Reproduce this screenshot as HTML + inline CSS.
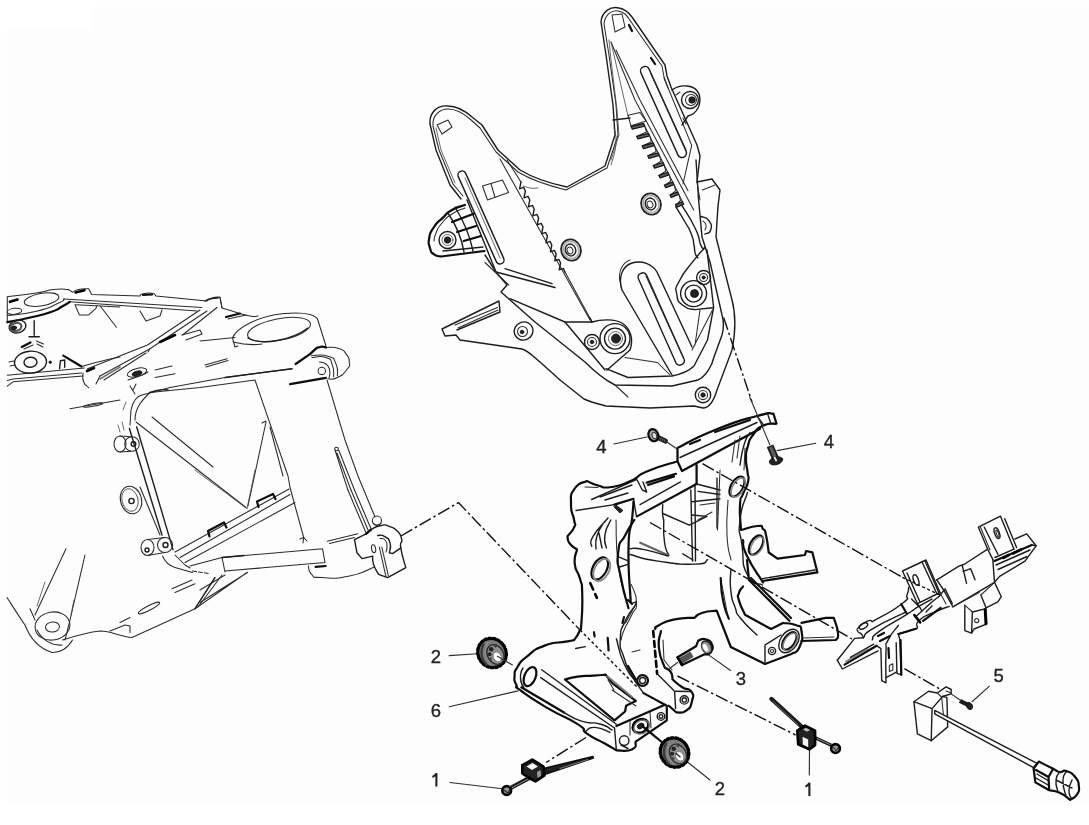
<!DOCTYPE html>
<html><head><meta charset="utf-8"><title>diagram</title>
<style>
html,body{margin:0;padding:0;background:#fff;}
body{width:1089px;height:825px;overflow:hidden;position:relative;font-family:"Liberation Sans",sans-serif;}
.bg1{position:absolute;left:7px;top:30px;width:1082px;height:774px;background:#fdfdfd;}
.bg2{position:absolute;left:93px;top:7px;width:996px;height:24px;background:#fdfdfd;}
svg{position:absolute;left:0;top:0;}
svg path, svg circle, svg ellipse{fill:none;stroke-linecap:round;stroke-linejoin:round;}
.t{stroke:#2b2b2b;stroke-width:1.05;}
.tt{stroke:#444;stroke-width:0.8;}
.m{stroke:#1c1c1c;stroke-width:1.4;}
.k{stroke:#0a0a0a;stroke-width:2.2;}
.kk{stroke:#000;stroke-width:2.6;}
.d{stroke:#111;stroke-width:1.4;stroke-dasharray:13 3 2.5 3;stroke-linecap:butt !important;}
.dd{stroke:#111;stroke-width:1.4;stroke-dasharray:3 2.5;stroke-linecap:butt !important;}
.l{stroke:#2e2e2e;stroke-width:1.15;}
.f{fill:#222 !important;stroke:#111;stroke-width:0.8;}
.w{fill:#fdfdfd !important;}
text{font-family:"Liberation Sans",sans-serif;fill:#222;}
</style></head><body>
<div class="bg1"></div><div class="bg2"></div>
<svg width="1089" height="825" viewBox="0 0 1089 825">
<g filter="url(#b)">
<filter id="b" x="0" y="0" width="1089" height="825" filterUnits="userSpaceOnUse"><feGaussianBlur stdDeviation="0.55"/></filter>
<path class="m" d="M 461,199 L 450,185 L 436,150 L 430,124 C 429,112 438,105 448,106 C 456,106 464,110 472,117 L 482,125 L 498,150 L 520,170 C 530,176 548,183 567,187 L 605,166 L 615,135 L 613,105 L 606,55 L 601,22 C 602,11 611,6 619,8 C 625,9 629,13 632,17 L 665,65 L 667,76 L 671,87 L 697,145 L 700,156 L 697,182 L 712,179 L 720,190 L 718,206 L 716,237 L 732,300 C 736,315 736,330 732,350 L 717,390 C 714,400 710,408 703,408 L 694,406 L 650,408 L 606,406 C 598,404 590,402 584,399 L 560,380 L 540,362 C 532,355 527,350 522,349 L 460,340 L 456,335 L 445,336 L 442,329 L 499,301 L 500,312 L 457,330" />
<path class="t" d="M 463,196 L 453,184 L 439,150 L 433,126 C 432,115 440,109 448,109 C 455,109 462,112 470,119 L 480,128 L 496,152 L 518,172 C 528,178 546,185 566,190 L 607,168 L 618,135 L 616,105 L 609,55 L 604,24 C 605,14 612,10 618,11 C 623,12 627,15 629,19 L 662,66 L 664,77 L 668,88" />
<path class="tt" d="M 436,128 L 441,150 L 455,183" />
<path class="tt" d="M 609,40 L 611,60 L 617,110 L 619,135 L 611,160" />
<path class="tt" d="M 611,165 C 616,150 618,140 614,128" />
<path class="t" d="M 437,125 L 448,120 L 452,127 L 442,134 Z" />
<path class="t" d="M 612,15 L 622,14 L 625,27 L 615,32 Z" />
<path class="k" d="M 629,25 L 632,31" />
<path class="k" d="M 651,58 L 655,64" />
<path class="m" d="M 458.3,176.6 L 496.3,261.6 A 4.0,4.0 0 0 0 503.7,258.4 L 465.7,173.4 A 4.0,4.0 0 0 0 458.3,176.6 Z" />
<path class="tt" d="M 465,178 L 500,258" />
<path class="m" d="M 640.9,72.9 L 677.9,154.9 A 4.5,4.5 0 0 0 686.1,151.1 L 649.1,69.1 A 4.5,4.5 0 0 0 640.9,72.9 Z" />
<path class="t" d="M 651,74 L 686,150" />
<path class="t" d="M 482.5,186 L 502.5,180 L 508.6,192.5 L 487.5,200 Z M 491,183.7 L 495,197.5" />
<path class="t" d="M 500,159 L 590,320" />
<path class="t" d="M 507,160 L 521,182" />
<path class="m" d="M 521.0,182.0 L 519.6,188.8 L 523.6,187.4 L 525.4,191.0 L 524.0,197.8 L 528.0,196.4 L 529.8,200.0 L 528.4,206.8 L 532.4,205.4 L 534.2,209.0 L 532.8,215.8 L 536.8,214.4 L 538.6,218.0 L 537.2,224.8 L 541.2,223.4 L 543.0,227.0 L 541.6,233.8 L 545.6,232.4 L 547.4,236.0 L 546.0,242.8 L 550.0,241.4 L 551.8,245.0 L 550.4,251.8 L 554.4,250.4 L 556.2,254.0 L 554.8,260.8 L 558.8,259.4 L 560.6,263.0 L 559.2,269.8 L 563.2,268.4 L 565.0,272.0" />
<path class="t" d="M 565,272 L 592,322" />
<path class="tt" d="M 523,186 C 528,188 533,189 538,188" />
<path class="t" d="M 611,42 L 635,100 L 693.7,210" />
<path class="t" d="M 616,50 L 640,100 L 688,190.7" />
<path class="tt" d="M 611,42 L 628,116" />
<path class="m" d="M 613,120 L 630,118" />
<path class="" d="M 631.0,126.5 L 643.5,123.5 L 644.7,126.1 L 632.4,129.1 Z" style="stroke:#151515;stroke-width:1.3;fill:#666"/>
<path class="t" d="M 645.1,127.1 L 646.5,132.0 L 638.1,135.8" />
<path class="" d="M 636.6,136.3 L 648.4,133.3 L 649.6,135.9 L 638.0,138.9 Z" style="stroke:#151515;stroke-width:1.3;fill:#666"/>
<path class="t" d="M 650.0,136.9 L 651.4,141.8 L 643.6,145.5" />
<path class="" d="M 642.1,146.0 L 653.2,143.0 L 654.4,145.6 L 643.5,148.6 Z" style="stroke:#151515;stroke-width:1.3;fill:#666"/>
<path class="t" d="M 654.8,146.6 L 656.2,151.5 L 649.2,155.3" />
<path class="" d="M 647.7,155.8 L 658.1,152.8 L 659.3,155.4 L 649.1,158.4 Z" style="stroke:#151515;stroke-width:1.3;fill:#666"/>
<path class="t" d="M 659.7,156.4 L 661.1,161.3 L 654.7,165.0" />
<path class="" d="M 653.2,165.5 L 662.9,162.5 L 664.1,165.1 L 654.6,168.1 Z" style="stroke:#151515;stroke-width:1.3;fill:#666"/>
<path class="t" d="M 664.5,166.1 L 665.9,171.0 L 660.3,174.8" />
<path class="" d="M 658.8,175.3 L 667.8,172.3 L 669.0,174.9 L 660.2,177.9 Z" style="stroke:#151515;stroke-width:1.3;fill:#666"/>
<path class="t" d="M 669.4,175.9 L 670.8,180.8 L 665.9,184.6" />
<path class="" d="M 664.4,185.1 L 672.7,182.1 L 673.9,184.7 L 665.8,187.7 Z" style="stroke:#151515;stroke-width:1.3;fill:#666"/>
<path class="t" d="M 674.3,185.7 L 675.7,190.6 L 671.4,194.3" />
<path class="" d="M 669.9,194.8 L 677.5,191.8 L 678.7,194.4 L 671.3,197.4 Z" style="stroke:#151515;stroke-width:1.3;fill:#666"/>
<path class="t" d="M 679.1,195.4 L 680.5,200.3 L 677.0,204.1" />
<path class="" d="M 675.5,204.6 L 682.4,201.6 L 683.6,204.2 L 676.9,207.2 Z" style="stroke:#151515;stroke-width:1.3;fill:#666"/>
<path class="t" d="M 628,115.3 L 640,112.5 L 646,121 L 631,125.8 Z" />
<path class="t" d="M 643.5,123.7 L 682.5,201.8" />
<path class="t" d="M 664,78 L 691.7,145.4 L 683,184" />
<path class="m" d="M 675.8,206.9 C 678.9,211.9 679.8,213.0 685.0,222.0 C 690.2,231.0 688.3,226.3 691.3,234.0 C 694.3,241.7 692.7,238.5 694.0,245.0 C 695.3,251.5 693.9,249.1 695.2,253.4 C 696.5,257.7 697.1,256.5 698.0,258.0 M 681.6,204.9 C 686.1,212.7 688.7,214.6 695.2,228.2 C 701.7,241.8 697.8,239.1 701.0,245.6 C 704.2,252.1 703.6,246.9 704.9,247.6" />
<ellipse class="" cx="651" cy="204" rx="9.8" ry="10.8" transform="rotate(-20 651 204)" style="stroke:#222;stroke-width:1.8"/>
<ellipse class="" cx="651" cy="204" rx="7.8" ry="8.8" transform="rotate(-20 651 204)" style="stroke:#aaa;stroke-width:1.8"/>
<ellipse class="m" cx="650.5" cy="204" rx="5.2" ry="6" transform="rotate(-20 650.5 204)" />
<ellipse class="t" cx="650" cy="204.5" rx="2.8" ry="3.4" transform="rotate(-20 650 204.5)" />
<ellipse class="" cx="571" cy="250" rx="9.8" ry="10.8" transform="rotate(-20 571 250)" style="stroke:#222;stroke-width:1.8"/>
<ellipse class="" cx="571" cy="250" rx="7.8" ry="8.8" transform="rotate(-20 571 250)" style="stroke:#aaa;stroke-width:1.8"/>
<ellipse class="m" cx="570.5" cy="250" rx="5.2" ry="6" transform="rotate(-20 570.5 250)" />
<ellipse class="t" cx="570" cy="250.5" rx="2.8" ry="3.4" transform="rotate(-20 570 250.5)" />
<path class="k" d="M 465.0,205.0 C 460.7,206.7 459.3,205.8 452.0,210.0 C 444.7,214.2 449.0,211.9 443.0,217.6 C 437.0,223.3 438.6,220.2 434.0,227.0 C 429.4,233.8 430.5,231.0 429.2,238.0 C 427.9,245.0 428.4,242.5 430.0,248.0 C 431.6,253.5 430.3,251.6 434.0,254.4 C 437.7,257.2 438.7,255.8 441.0,256.5 L 484.5,251.0" />
<path class="t" d="M 465.0,208.0 C 460.7,210.0 459.7,209.0 452.0,214.0 C 444.3,219.0 447.3,216.7 442.0,223.0 C 436.7,229.3 438.7,227.0 436.0,233.0 C 433.3,239.0 434.7,238.3 434.0,241.0" />
<circle class="m" cx="447.5" cy="240" r="8.5" />
<circle class="f" cx="447.5" cy="240" r="3.2" />
<circle class="tt" cx="447.5" cy="240" r="5.5" />
<path class="m" d="M 448,213 C 456,225 462,240 464,252 M 455,207 C 463,220 470,236 473,251" />
<path class="k" d="M 452,222 L 473.7,213.7 M 457,232 L 476,226 M 463.7,241 L 481,236" />
<path class="m" d="M 443,251 L 483,247" />
<path class="m" d="M 467,200 L 496,272 L 507,285 L 501,292 L 535,322 L 585,362 C 595,372 605,380 615,385 L 672,386 L 698,380 C 706,376 712,366 714,357 L 722,335 C 724,328 724,322 722,315 L 710,262 L 702,237 L 698.6,200 L 696,160" />
<path class="m" d="M 485,255 L 496,272 L 555,287.5 M 505,268.7 L 552,283.7" />
<path class="t" d="M 485,262.5 L 508.7,285" />
<path class="m" d="M 510,298.7 L 565,322 L 605,370" />
<path class="m" d="M 565,322 L 592,322 L 590,318" />
<circle class="m" cx="615" cy="338.6" r="15" />
<circle class="m" cx="615" cy="338.6" r="10.5" />
<circle class="f" cx="616" cy="338.6" r="4.5" />
<circle class="tt" cx="615.5" cy="338.6" r="7" />
<path class="m" d="M 592,322 C 602,319 615,319 622,323 C 630,328 634,338 630,350 L 607,370" />
<circle class="m" cx="592" cy="342" r="7.5" />
<circle class="t" cx="592" cy="342" r="4.5" />
<circle class="f" cx="592" cy="342" r="1.8" />
<path class="t" d="M 625,357.5 L 657.5,362.5 L 670,375" />
<path class="m" d="M 606,368.6 L 628,377.5 L 672,376 C 682,374 690,370 694,366 L 707.5,340 L 713.6,307.5 L 707,250" />
<path class="t" d="M 615,385 L 628,397" />
<path class="m" d="M 672,375 L 622,290 C 618,278 622,266 632,263 C 642,260 652,264 657,272 L 692,347" />
<path class="t" d="M 620,282 C 618,272 622,263 630,260" />
<path class="m" d="M 638.4,278.8 L 675.9,362.8 A 4.5,4.5 0 0 0 684.1,359.2 L 646.6,275.2 A 4.5,4.5 0 0 0 638.4,278.8 Z" />
<path class="t" d="M 646,276 L 683,357" />
<circle class="m" cx="693.6" cy="293.6" r="13" />
<circle class="m" cx="693.6" cy="293.6" r="8.5" />
<circle class="f" cx="694.5" cy="293.6" r="4" />
<path class="m" d="M 704.9,247.6 C 701.0,252.1 701.6,250.2 693.2,261.2 C 684.8,272.2 685.1,269.6 679.6,280.5 C 674.1,291.4 675.4,285.6 676.7,294.0 C 678.0,302.4 677.3,300.6 683.5,305.8 C 689.7,311.0 691.3,308.3 695.2,309.6 L 712.6,307.7" />
<circle class="m" cx="703.6" cy="277.5" r="7" />
<circle class="t" cx="703.6" cy="277.5" r="4" />
<circle class="f" cx="703.6" cy="277.5" r="1.6" />
<path class="t" d="M 700,310 L 695,345 M 712.5,310 L 692,350" />
<path class="m" d="M 701.0,216.5 C 703.6,217.8 705.5,215.9 708.7,220.4 C 711.9,224.9 712.0,225.5 710.7,230.0 C 709.4,234.5 706.8,232.7 704.9,234.0" />
<path class="t" d="M 703.0,221.0 C 704.0,222.3 705.3,222.0 706.0,225.0 C 706.7,228.0 705.3,228.3 705.0,230.0" />
<circle class="m" cx="703" cy="395" r="7.7" />
<circle class="t" cx="703" cy="395" r="4.6" />
<circle class="f" cx="703" cy="395" r="2.2" />
<path class="m" d="M 672,90 C 680,84 695,84 699,94 C 702,104 697,114 688,116 L 682,125" />
<circle class="m" cx="690" cy="100" r="8.5" />
<circle class="t" cx="691" cy="100" r="5.5" />
<circle class="f" cx="692" cy="100" r="3.2" />
<path class="t" d="M 676,95 L 680,92 M 683,118 L 686,124" />
<path class="t" d="M 702.5,190 L 715,185" />
<path class="t" d="M 697,182 L 700,200" />
<path class="t" d="M 455,325 L 497.5,307.5 M 458,328 L 498,310" />
<ellipse class="m" cx="523.6" cy="331" rx="9.5" ry="9" transform="rotate(-20 523.6 331)" />
<ellipse class="t" cx="522.5" cy="331.5" rx="5" ry="5" transform="rotate(0 522.5 331.5)" />
<circle class="f" cx="522" cy="332" r="1.8" />
<path class="t" d="M 7.3,296.7 C 17.0,295.5 20.9,295.4 36.4,293.0 C 51.9,290.6 43.1,290.7 53.8,289.5 C 64.5,288.3 63.5,289.5 68.4,289.5 L 72.7,292.4 C 74.6,291.4 73.2,290.7 78.5,289.5 C 83.8,288.3 85.3,289.0 88.7,288.7 L 91.6,294.5 L 140.0,296.0 C 141.0,295.3 139.0,294.7 143.0,293.8 C 147.0,292.9 147.7,292.5 152.0,293.2 C 156.3,293.9 154.7,295.1 156.0,296.0 L 207.0,301.0 C 208.7,300.0 207.7,299.3 212.0,298.0 C 216.3,296.7 217.3,297.3 220.0,297.0 L 222.0,308.0 C 226.3,309.3 225.7,309.3 235.0,312.0 C 244.3,314.7 242.3,314.7 250.0,316.0 C 257.7,317.3 255.3,316.0 258.0,316.0" />
<path class="kk" d="M 75.6,292.4 L 84.4,290.2" />
<path class="kk" d="M 10,301.8 L 17.5,299.6" />
<path class="k" d="M 143,295 L 152,294.5" />
<path class="t" d="M 64,298.9 L 202,307.5 M 69.8,301.8 L 197,311 M 75.6,304.7 L 120,306.9" />
<path class="t" d="M 200,310 L 147.5,345 L 87.5,368.7 M 207,311 L 150,348.7 L 100,376 M 217,307.5 L 182.5,335 M 220,297.5 L 222,308" />
<path class="kk" d="M 160,342 L 175,335" />
<path class="t" d="M 182,335 L 200,330 L 202,334 L 186,340" />
<path class="t" d="M 150,348.7 L 148,352 M 100,376 L 96,384" />
<path class="t" d="M 104,380 L 146,353" />
<path class="" d="M 100,379 L 120,367" style="stroke:#777;stroke-width:1.8"/>
<path class="t" d="M 81.5,366.5 C 87.7,364.8 87.2,364.7 100.0,361.5 C 112.8,358.3 113.3,358.5 120.0,357.0" />
<path class="kk" d="M 87,371 L 94,368" />
<path class="t" d="M 83.0,373.0 C 83.2,375.9 81.7,376.9 83.6,381.8 C 85.5,386.7 87.0,385.7 88.7,387.6" />
<path class="t" d="M 7.3,375.3 L 84.4,368 M 13,379 L 81.5,373 M 13,381.8 L 83,376 M 7.3,380.4 L 13,379 M 7.3,386.2 L 13,381.8" />
<path class="t" d="M 7.3,296.7 L 7.3,322" />
<ellipse class="t" cx="41.5" cy="299.6" rx="17.5" ry="6.2" transform="rotate(-10 41.5 299.6)" />
<ellipse class="t" cx="14.5" cy="311.3" rx="7.3" ry="3" transform="rotate(-8 14.5 311.3)" />
<path class="k" d="M 7.3,322.2 C 14.5,320.7 14.4,321.2 29.0,317.8 C 43.6,314.4 39.8,315.9 51.0,312.0 C 62.2,308.1 56.2,309.6 62.5,306.2 C 68.8,302.8 67.4,303.3 69.8,301.8" />
<path class="t" d="M 7.3,315.6 C 17.0,314.2 19.4,315.4 36.4,311.3 C 53.4,307.2 49.0,307.4 58.2,303.3 C 67.4,299.2 62.1,300.4 64.0,298.9" />
<ellipse class="m" cx="17.5" cy="326.5" rx="8.5" ry="6.3" transform="rotate(-15 17.5 326.5)" />
<ellipse class="" cx="16" cy="327" rx="5.5" ry="4" transform="rotate(-15 16 327)" style="stroke:#555;stroke-width:2.2"/>
<ellipse class="f" cx="14" cy="328" rx="2.6" ry="2" transform="rotate(-15 14 328)" />
<path class="m" d="M 34.2,320.7 L 34.2,335.3 M 29,336.7 L 39.3,336.7" />
<path class="k" d="M 21.8,346.9 L 30.5,342.5" />
<path class="t" d="M 24,349 L 33,345 M 36.4,341 L 43.6,344 M 37,344 L 43,347" />
<ellipse class="m" cx="30.5" cy="362.2" rx="16" ry="11" transform="rotate(-4 30.5 362.2)" />
<ellipse class="m" cx="30.5" cy="362.2" rx="6.5" ry="5" transform="rotate(-4 30.5 362.2)" />
<path class="t" d="M 10,366 L 15,365 M 9,362 L 14,361" />
<circle class="f" cx="50.2" cy="362.2" r="1.2" />
<path class="m" d="M 59.6,368.7 L 60.4,360.7 L 64.7,360 L 64.7,367.3" />
<path class="k" d="M 63.3,355.6 L 81.5,366.5" />
<path class="t" d="M 75,304.7 L 79.3,314.9 L 88.7,314.9 L 96,308.4 L 96.7,305.5 M 100.4,306.2 L 116.4,327.3 M 140,311 L 146,321 L 160,316 L 162,310" />
<path class="k" d="M 226,317 L 240,313.5" />
<path class="t" d="M 228,319 L 246,315" />
<path class="t" d="M 200,341 L 235,337.5" />
<path class="m" d="M 205,301 C 208,299 213,298 218,298" />
<path class="t" d="M 232.5,338 C 236,328 258,316 284,313.5 C 302,312 314,314 317.5,319" />
<ellipse class="t" cx="279" cy="329.5" rx="32" ry="10.8" transform="rotate(-11 279 329.5)" />
<path class="m" d="M 248,338 C 262,346 292,340 308,328" />
<path class="t" d="M 232.5,338 L 235,347 L 238,346 M 233,342 C 245,345 255,345 262,344" />
<path class="t" d="M 317.5,319 L 326,346 M 327,380 L 345,440 L 358,476 L 375,517" />
<path class="t" d="M 325.9,347.4 C 330.2,347.7 332.1,346.2 338.8,348.4 C 345.5,350.6 342.6,349.3 346.1,353.9 C 349.6,358.5 349.0,356.9 349.3,362.1 C 349.6,367.3 351.1,364.3 347.0,369.5 C 342.9,374.7 343.3,374.7 336.9,377.8 C 330.5,380.9 330.8,378.4 327.8,378.7" />
<path class="t" d="M 311.2,355.7 C 316.7,355.9 319.5,353.4 327.8,356.2 C 336.1,359.0 332.8,357.4 336.0,364.0 C 339.2,370.6 336.9,371.9 337.4,375.9" />
<path class="t" d="M 312.0,357.5 C 316.6,357.5 319.1,355.0 325.9,357.5 C 332.7,360.0 329.7,358.5 332.3,364.9 C 334.9,371.3 333.2,372.8 333.7,376.8" />
<path class="t" d="M 319.5,362.1 C 321.6,362.7 322.5,361.2 325.9,364.0 C 329.3,366.8 328.5,365.8 329.6,370.4 C 330.7,375.0 329.3,375.3 329.1,377.8" />
<path class="k" d="M 295.6,364 L 310.3,353.9 L 316.7,347.9 L 322.2,346.5 L 325.9,347.4" />
<path class="k" d="M 290.1,384.2 L 325.9,377.8" />
<circle class="t" cx="321.8" cy="370.9" r="3.7" />
<path class="t" d="M 130,425 L 131,410 C 133,400 138,396 142,395 L 170,387.5 L 225,377.5 L 292,368.7" />
<path class="m" d="M 225,377.5 L 292,368.7" />
<path class="t" d="M 135,420 C 135,408 142,400 150,392.5 L 200,387.5 L 255,380 L 288,476 L 290,487.5 L 303.7,537.5" />
<path class="m" d="M 150,392.5 C 156,390 162,389 168,390" />
<path class="t" d="M 300,539 L 303.7,537.5 L 307,541 M 303.7,537.5 L 303,543" />
<path class="m" d="M 129.4,428.5 L 162,535 M 136.7,427 L 173,549.6" />
<path class="t" d="M 140,487 L 160,535" />
<path class="t" d="M 152,417 L 213,467 M 136,422 L 246,507.5 M 266,422 L 248,506 M 270,427 L 283,476 M 262,423 L 266,421" />
<path class="tt" d="M 195,470 L 247,508.7 M 255,470 L 247,508.7" />
<circle class="t" cx="132" cy="444" r="7.3" />
<circle class="m" cx="133.5" cy="444" r="2.3" />
<ellipse class="t" cx="120" cy="444" rx="6" ry="8" transform="rotate(0 120 444)" />
<path class="t" d="M 120,436 L 131,436.8 M 120,452 L 131,451.2" />
<path class="tt" d="M 118,425 L 120,432 M 122,422 L 124,430 M 126,402 L 123,410" />
<ellipse class="t" cx="131" cy="500" rx="10.5" ry="14" transform="rotate(-15 131 500)" />
<circle class="m" cx="131.5" cy="501" r="2.6" />
<ellipse class="tt" cx="130" cy="500" rx="8" ry="11.5" transform="rotate(-15 130 500)" />
<circle class="t" cx="165" cy="545" r="7.5" />
<circle class="m" cx="165.5" cy="545" r="2.5" />
<ellipse class="t" cx="147.5" cy="547.5" rx="6.5" ry="8" transform="rotate(0 147.5 547.5)" />
<circle class="m" cx="147" cy="550" r="2" />
<path class="t" d="M 147.5,539.5 L 165,537.5 M 147.5,555.5 L 165,552.5" />
<path class="t" d="M 175,552 L 289,489 M 180,557.5 L 290,494.5 M 185,562.5 L 295,502.5" />
<path class="k" d="M 209.5,536.5 L 208,531 L 224,522.5 L 226.5,527.5" />
<path class="k" d="M 258.5,507 L 257,501.5 L 273,494 L 275.5,499" />
<path class="t" d="M 190,566 L 222,557.5 L 322.5,548.7 M 225,571 L 325,562.5 M 222,557.5 L 225,572 M 322.5,548.7 L 325,562.5" />
<path class="m" d="M 222,557.5 L 244,555.5" />
<path class="t" d="M 200,590 L 225,575 M 200,602.5 L 247.5,572.5 M 195,608.7 L 247,572.5" />
<path class="t" d="M 62.5,640 C 75,636 90,632 100,631 C 112,631 120,637 132,637.5 L 195,608.7" />
<path class="m" d="M 195,608.7 L 215,577.5" />
<path class="t" d="M 198,607 L 222,575" />
<path class="t" d="M 110,631 L 125,625 L 130,626 L 130,632.5" />
<path class="t" d="M 172,588.7 L 192,580 M 175,592.5 L 195,583.7" />
<ellipse class="t" cx="149" cy="608" rx="12" ry="2.3" transform="rotate(-27 149 608)" />
<path class="t" d="M 120,622.5 L 130,617.5" />
<ellipse class="t" cx="52.5" cy="626" rx="17.5" ry="14" transform="rotate(-10 52.5 626)" />
<ellipse class="t" cx="52.5" cy="627" rx="7" ry="5" transform="rotate(-5 52.5 627)" />
<path class="t" d="M 66,548.7 L 35,615 M 85,555 L 70,620 L 65,640" />
<path class="t" d="M 7,597.5 C 15,610 20,618 25,625 C 30,638 38,648 52,652.5 C 60,653 68,648 72.5,640" />
<path class="t" d="M 30,608.7 L 35,620 M 37,630 C 42,640 52,646 62,645" />
<path class="tt" d="M 45,582 L 37,606 M 74,600 L 71,615" />
<path class="t" d="M 162.5,556 C 165,562 170,566 175,567.5 L 192.5,572.5 M 175,555 L 185,565 L 190,568" />
<path class="t" d="M 192.5,571 L 210,573.7" stroke-dasharray="4 2"/>
<path class="t" d="M 308.3,566.0 C 309.4,568.8 307.2,570.4 311.6,574.3 C 316.0,578.2 308.8,577.0 321.5,577.6 C 334.2,578.2 332.0,579.6 349.6,576.0 C 367.2,572.4 366.1,569.9 374.4,566.9" />
<path class="m" d="M 354.5,539.6 L 357.0,552.8 L 362.0,558.6 L 372.7,556.1 C 373.0,558.9 371.7,558.3 373.6,564.4 C 375.5,570.5 376.9,571.0 378.5,574.3 L 387.6,577.6 L 405.8,567.7 C 404.1,561.1 402.2,557.3 400.8,547.9 C 399.4,538.5 402.8,545.1 401.7,539.6 C 400.6,534.1 401.6,535.7 397.5,531.3 C 393.4,526.9 394.8,528.3 389.3,526.4 C 383.8,524.5 387.1,524.4 381.0,525.5 C 374.9,526.6 376.0,526.9 371.0,529.7 C 366.0,532.5 367.7,532.4 366.1,533.8 L 354.5,539.6" />
<path class="m" d="M 377.7,535.5 C 379.9,535.8 380.2,533.8 384.3,536.3 C 388.4,538.8 388.3,537.4 390.0,542.9 C 391.7,548.4 389.5,549.5 389.3,552.8 L 392.6,553.6 L 400.8,547.9" />
<path class="t" d="M 380.0,538.5 C 381.7,539.0 382.7,537.5 385.0,540.0 C 387.3,542.5 386.7,542.0 387.0,546.0 C 387.3,550.0 386.3,550.0 386.0,552.0" />
<ellipse class="t" cx="373.6" cy="548.7" rx="2" ry="4" transform="rotate(-10 373.6 548.7)" />
<path class="t" d="M 379.3,547 L 386,576.8 M 381.8,547 L 388.4,576" />
<circle class="t" cx="376.9" cy="520.6" r="4.6" />
<path class="t" d="M 373,523 C 375,526 379,526 381,523" />
<path class="k" d="M 366.1,533.8 L 371,529.7" />
<path class="t" d="M 327.3,541.2 L 357.9,533.8 M 329.5,543.6 L 354.5,537.5" />
<path class="t" d="M 347.9,490 L 366.1,533 M 351,490 L 368.5,531 M 354.5,490 L 371,528.8" />
<path class="t" d="M 335,450 L 347.9,490 M 338.7,450 L 354.5,490 M 337,453 L 351,490" />
<circle class="t" cx="336.5" cy="449" r="1.8" />
<path class="k" d="M 315.7,566.9 L 325.6,566" />
<path class="t" d="M 205,365 L 227,358.7 M 206,367 L 228,360.5" />
<path class="t" d="M 155,370 L 172,366 M 155,377.5 L 175,373.7" />
<path class="t" d="M 70,408.7 L 120,400" />
<ellipse class="t" cx="93" cy="405" rx="10" ry="1.3" transform="rotate(-10 93 405)" />
<ellipse class="t" cx="137" cy="372.5" rx="10" ry="4" transform="rotate(-15 137 372.5)" />
<ellipse class="f" cx="137" cy="373.5" rx="5" ry="2.3" transform="rotate(-15 137 373.5)" />
<path class="t" d="M 128,380 C 133,378 142,376 148,372" />
<path class="t" d="M 130,386 L 135,394 M 136,384 L 133,390" />
<path class="k" d="M 574.1,640.0 C 575.8,637.2 576.8,637.4 579.2,631.7 C 581.6,626.0 580.4,635.6 581.4,622.9 C 582.4,610.2 582.7,608.2 582.2,593.5 C 581.7,578.8 582.5,588.6 580.0,578.8 C 577.5,569.0 575.8,573.9 574.8,564.1 C 573.8,554.3 576.3,554.3 577.0,549.4 C 574.6,547.4 572.9,547.9 569.7,543.5 C 566.5,539.1 568.2,538.6 567.5,536.2 C 569.7,533.2 571.9,532.7 574.1,527.3 C 576.3,521.9 575.1,527.6 574.1,520.0 C 573.1,512.4 570.8,515.1 571.0,504.6 C 571.2,494.1 569.4,496.4 574.7,488.5 C 580.0,480.6 582.9,483.5 587.0,481.0 C 590.7,482.5 589.9,483.5 598.0,485.5 C 606.1,487.5 600.6,488.5 611.4,487.0 C 622.2,485.5 618.3,486.3 630.5,481.0 C 642.7,475.7 632.3,477.6 648.0,471.0 C 663.7,464.4 667.7,464.5 677.5,461.3 L 677.5,448.0 C 690.0,442.0 688.5,440.7 715.0,430.0 C 741.5,419.3 737.5,421.4 757.0,416.0 C 776.5,410.6 768.0,414.5 773.5,413.7 L 776.5,423.7 C 772.2,424.3 771.2,421.9 763.5,425.5 C 755.8,429.1 758.5,427.5 753.3,434.5 C 748.1,441.5 750.2,438.2 747.8,446.4 C 745.4,454.6 746.1,450.5 746.0,459.0 C 745.9,467.5 746.8,464.3 747.5,472.0 C 748.2,479.7 749.5,474.7 748.0,482.0 C 746.5,489.3 745.7,486.3 743.0,494.0 C 740.3,501.7 740.7,493.0 740.0,505.0 C 739.3,517.0 740.7,521.7 741.0,530.0 C 746.5,528.7 750.2,526.3 757.5,526.0 C 764.8,525.7 760.2,526.0 763.0,529.0 C 765.8,532.0 764.1,527.2 766.0,535.0 C 767.9,542.8 767.8,546.7 768.7,552.5 L 777.5,558.6 L 805.0,555.0 L 806.0,551.0 L 812.4,552.4 L 817.4,572.4 L 762.4,581.0" />
<path class="m" d="M 762.4,578.6 L 815,570" />
<path class="k" d="M 574.1,640.0 C 571.4,640.6 575.8,639.8 566.0,641.7 C 556.2,643.6 557.5,640.7 544.6,645.6 C 531.7,650.5 536.2,649.2 527.2,656.3 C 518.2,663.4 521.7,660.4 517.5,667.0 C 513.3,673.6 515.0,670.2 514.6,676.0 C 514.2,681.8 513.7,679.3 516.2,684.5 C 518.7,689.7 511.2,683.5 522.0,691.5 C 532.8,699.5 530.0,697.7 548.5,708.6 C 567.0,719.5 564.7,715.8 577.6,724.2 C 590.5,732.6 578.2,727.5 587.3,733.9 C 596.4,740.3 595.1,738.0 604.8,743.5 C 614.5,749.0 612.5,748.0 616.4,750.3 C 621.6,750.0 625.4,752.3 631.9,749.4 C 638.4,746.5 634.5,744.2 635.8,741.6 L 666.8,720.3 L 666.8,705.7 L 643.5,693.1" />
<path class="k" d="M 677.5,461.3 L 682,471 L 760,428.7" />
<path class="m" d="M 680,457.5 L 757,422.5" />
<path class="k" d="M 690,444 L 700,440 M 715,432 L 750,420" />
<path class="m" d="M 757,416 L 763.5,425 M 768,415 L 771,424" />
<path class="k" d="M 637,516.4 L 696.6,484" />
<path class="m" d="M 640,504.6 L 680.5,481.9" />
<path class="m" d="M 633.5,498.8 L 636.4,516.4" />
<path class="m" d="M 576,510.5 L 614.4,504.6 M 591.6,499.5 L 636.4,479.7" />
<path class="t" d="M 585,487 L 598,487.5" />
<path class="m" d="M 637,479.7 L 642.3,490 L 646.7,492 L 643,482" />
<path class="f" d="M 616,505 L 623,510.5 L 620,513 L 614,507 Z" />
<path class="k" d="M 646.7,482.6 L 676,473.8 M 648,485 L 674,476.5" />
<path class="m" d="M 600,497 L 632,485 M 605,500 L 628,493" />
<path class="k" d="M 614.4,504.6 L 633.5,498.8" />
<path class="m" d="M 610.8,520.0 C 608.9,524.9 606.5,525.4 605.0,534.7 C 603.5,544.0 605.9,543.6 606.4,548.0 M 608.0,518.0 C 603.1,524.1 598.6,526.7 593.2,536.2 C 587.8,545.7 592.2,543.0 591.7,546.4 M 604.0,522.0 C 601.7,526.7 599.7,527.0 597.0,536.0 C 594.3,545.0 596.3,544.7 596.0,549.0 M 599.0,533.2 L 602.0,548.0" />
<path class="t" d="M 616.0,520.0 C 616.7,534.7 615.0,538.6 618.2,564.1 C 621.4,589.6 623.1,585.6 625.5,596.4" />
<path class="k" d="M 634.3,520.0 C 631.4,524.9 630.9,523.9 625.5,534.7 C 620.1,545.5 619.7,537.6 618.2,552.3 C 616.7,567.0 617.7,560.2 621.1,578.8 C 624.5,597.4 626.0,598.4 628.5,608.2" />
<path class="k" d="M 633.5,501.7 C 633.0,507.6 633.7,503.4 632.0,519.3 C 630.3,535.2 628.9,521.7 628.5,549.4 C 628.1,577.1 630.0,584.7 630.7,602.3" />
<path class="m" d="M 618.2,556.7 L 628.5,561.1 M 619.6,567 L 628.5,564.1" />
<path class="t" d="M 631.4,584.6 C 633.1,590.5 636.5,592.0 636.5,602.3 C 636.5,612.6 635.6,606.2 631.4,615.5 C 627.2,624.8 627.4,622.0 624.0,630.2 C 620.6,638.4 622.1,636.7 621.1,640.0" />
<path class="t" d="M 634.3,606.7 L 625.5,622.9" />
<ellipse class="k" cx="599.8" cy="568.5" rx="7" ry="12" transform="rotate(28 599.8 568.5)" />
<ellipse class="" cx="601.8" cy="570" rx="7.2" ry="12" transform="rotate(28 601.8 570)" style="stroke:#888;stroke-width:1.8"/>
<path class="kk" d="M 590.3,583.2 L 596.9,597.9" stroke-dasharray="7 5"/>
<path class="k" d="M 624,617 L 622.5,623 M 594,632.4 L 594.6,636" />
<path class="m" d="M 663.7,520.0 C 664.0,527.3 662.8,530.2 664.5,542.0 C 666.2,553.8 667.4,550.9 668.9,555.3" />
<path class="m" d="M 662.8,504.6 C 662.7,507.6 662.2,508.4 662.5,513.5 C 662.8,518.6 663.3,517.8 663.7,520.0" />
<path class="m" d="M 662.8,513.5 L 689.3,525.2 L 707,516.4 L 692,515" />
<path class="m" d="M 690.8,490 L 692.5,561 M 695,484 L 695.5,561" />
<path class="k" d="M 696.6,465 L 696.6,484" />
<path class="" d="M 640.2,542.8 L 668.1,555.3" style="stroke:#666;stroke-width:2.2"/>
<path class="m" d="M 629.9,548.7 C 634.3,548.9 630.5,547.0 643.2,549.4 C 655.9,551.8 659.8,553.8 668.1,556.0" />
<path class="m" d="M 630.0,554.5 C 639.3,556.7 636.4,557.9 657.9,561.1 C 679.4,564.3 678.0,564.6 694.6,564.1 C 711.2,563.6 703.4,561.2 707.8,559.7" />
<path class="m" d="M 682.8,553.8 L 693,560" />
<path class="m" d="M 696.6,484 L 720,490 M 698,491.4 L 720,494.5 M 692,501.7 L 720,498.8" />
<path class="m" d="M 717,478 L 717,528" />
<path class="t" d="M 720,470 L 717.5,530" />
<path class="t" d="M 700,505 L 715,503 M 698,520 L 712,512" />
<path class="m" d="M 750.0,432.5 C 748.0,436.7 747.3,434.2 744.0,445.0 C 740.7,455.8 741.3,458.3 740.0,465.0" />
<path class="t" d="M 735,440 L 732,462 M 740,436 L 737,458 M 745,448 L 744,470" />
<path class="m" d="M 747.5,492.5 C 745.0,501.7 741.8,502.5 740.0,520.0 C 738.2,537.5 739.5,526.7 742.0,545.0 C 744.5,563.3 740.7,561.7 747.5,575.0 C 754.3,588.3 757.5,581.7 762.5,585.0" />
<path class="t" d="M 728.0,500.0 C 727.7,511.7 726.0,515.0 727.0,535.0 C 728.0,555.0 729.7,551.7 731.0,560.0" />
<ellipse class="k" cx="737" cy="486.5" rx="6" ry="11" transform="rotate(30 737 486.5)" />
<ellipse class="" cx="738.2" cy="487.6" rx="5.6" ry="10.5" transform="rotate(30 738.2 487.6)" style="stroke:#888;stroke-width:1.6"/>
<ellipse class="k" cx="756" cy="545" rx="5.8" ry="10.5" transform="rotate(30 756 545)" />
<ellipse class="" cx="757.2" cy="546" rx="5.4" ry="10" transform="rotate(30 757.2 546)" style="stroke:#888;stroke-width:1.4"/>
<path class="k" d="M 743.0,540.0 C 744.3,545.3 740.3,541.9 747.0,556.0 C 753.7,570.1 757.7,573.6 763.0,582.4" />
<path class="k" d="M 747.0,560.0 L 749.0,580.0 L 789.4,620.8" />
<path class="k" d="M 751,578 L 791,618" />
<path class="k" d="M 783.0,623.0 C 787.2,623.7 789.3,622.3 795.5,625.0 C 801.7,627.7 800.2,623.7 801.5,631.0 C 802.8,638.3 802.9,639.3 799.5,647.0 C 796.1,654.7 794.1,651.7 791.4,654.0 L 765.0,664.0 L 730.8,647.0 L 716.7,610.7 C 712.0,611.4 709.9,610.3 702.5,612.7 C 695.1,615.1 697.1,616.1 694.4,617.8 C 687.8,618.3 686.4,616.9 674.6,619.4 C 662.8,621.9 665.5,622.0 659.0,625.2 C 652.5,628.4 656.5,627.7 655.2,629.0" />
<path class="k" d="M 661.0,631.0 C 660.3,636.8 657.7,636.2 659.0,648.5 C 660.3,660.8 662.9,661.4 664.9,667.9 C 666.8,669.2 668.1,667.9 670.7,671.8 C 673.3,675.7 672.0,676.9 672.6,679.5 C 675.8,682.1 676.2,683.4 682.3,687.3 C 688.4,691.2 687.8,686.7 691.0,691.2 C 694.2,695.7 693.6,694.4 692.0,700.9 C 690.4,707.4 691.4,706.7 686.2,710.6 C 681.0,714.5 679.7,711.9 676.5,712.5 L 668.8,705.7" />
<path class="kk" d="M 653.2,631 L 657.1,673.7" stroke-dasharray="6 4"/>
<path class="m" d="M 657.1,673.7 L 674.6,691.2 L 675.6,708.6" />
<path class="m" d="M 675.6,691.2 L 690,691.5" />
<path class="m" d="M 765,645 L 765,664 M 765,645 L 781,635" />
<path class="k" d="M 743.0,586.5 C 741.7,588.7 740.3,588.3 739.0,593.0 C 737.7,597.7 737.0,593.4 739.0,600.6 C 741.0,607.8 743.0,610.0 745.0,614.7 L 771.0,629.0 L 783.0,623.0" />
<path class="m" d="M 730.8,570.0 C 730.8,576.8 729.4,578.2 730.8,590.5 C 732.2,602.8 731.6,597.6 735.0,607.0 C 738.4,616.4 733.7,609.5 741.0,618.8 C 748.3,628.1 751.7,629.6 757.0,635.0" />
<path class="k" d="M 720.7,578.0 C 721.5,585.3 720.3,586.4 723.0,600.0 C 725.7,613.6 726.9,612.5 728.8,618.8" />
<path class="t" d="M 722,585 L 727,612" />
<ellipse class="k" cx="789.4" cy="641" rx="5.5" ry="10" transform="rotate(35 789.4 641)" />
<ellipse class="m" cx="789" cy="641" rx="8.5" ry="13" transform="rotate(35 789 641)" />
<ellipse class="" cx="790.2" cy="642" rx="5.5" ry="10" transform="rotate(35 790.2 642)" style="stroke:#888;stroke-width:1.4"/>
<circle class="m" cx="772" cy="651" r="3.6" />
<circle class="t" cx="772" cy="651" r="1.6" />
<path class="k" d="M 801.5,622.8 L 825.8,617.8 L 833.8,617.8 C 835.2,622.9 837.3,625.6 838.0,633.0 C 838.7,640.4 836.7,637.7 836.0,640.0 L 801.5,641.0" />
<path class="t" d="M 803,638 L 834,637" />
<circle class="m" cx="684.3" cy="699.9" r="4.2" />
<circle class="m" cx="684.3" cy="699.9" r="2.2" />
<path class="t" d="M 663,640 L 664,660 L 672,670" />
<path class="m" d="M 628.0,600.0 C 629.3,601.0 629.4,601.7 632.0,603.0 C 634.6,604.3 637.8,598.4 635.8,603.9 C 633.8,609.4 631.3,607.8 626.1,619.4 C 620.9,631.0 620.9,625.9 620.3,638.8 C 619.7,651.7 620.3,645.9 624.2,658.2 C 628.1,670.5 625.5,664.1 631.9,675.7 C 638.3,687.3 639.6,687.3 643.5,693.1" />
<path class="k" d="M 628,600 L 632,604" />
<path class="m" d="M 616.4,638.8 C 619.0,647.2 617.7,649.8 624.2,664.0 C 630.7,678.2 631.9,675.7 635.8,681.5" />
<path class="k" d="M 628,666 L 635.8,679.5" />
<circle class="k" cx="642.6" cy="680.5" r="5.4" />
<circle class="m" cx="642.6" cy="680.5" r="3" />
<path class="t" d="M 632,652 L 640,650" />
<path class="k" d="M 607.7,637.8 L 608.6,650.4" />
<path class="m" d="M 594,632 L 594.6,637 M 575.7,648.5 L 585.4,646.6" />
<ellipse class="k" cx="530" cy="676.6" rx="5.6" ry="10" transform="rotate(22 530 676.6)" />
<path class="m" d="M 523,668 C 519,674 520,683 524,688" />
<path class="k" d="M 565.0,679.5 C 569.2,678.5 568.2,677.9 577.6,676.6 C 587.0,675.3 583.7,676.3 593.1,675.7 C 602.5,675.1 601.5,675.0 605.7,674.7 L 612.5,683.4 L 635.8,700.9 L 626.1,705.7 L 625.1,711.5 L 614.5,720.3 L 565.0,679.5" />
<path class="m" d="M 541.7,669.8 L 616.4,724.2 M 540.7,677.6 L 614.5,728" />
<path class="k" d="M 521.3,687.3 L 564,712.5" />
<path class="m" d="M 564.0,712.5 C 569.8,715.4 569.5,717.4 581.5,721.2 C 593.5,725.0 589.8,721.1 600.0,724.0 C 610.2,726.9 608.0,728.0 612.0,730.0" />
<path class="k" d="M 616.4,726 L 664.9,704.8" />
<path class="m" d="M 614.5,728 L 616.4,750.3" />
<path class="m" d="M 586.0,731.0 C 589.0,729.8 587.0,726.9 595.0,727.4 C 603.0,727.9 605.0,730.7 610.0,732.4" />
<path class="t" d="M 630,721 L 630,735 M 650,712 L 651,728" />
<ellipse class="kk" cx="640.6" cy="726" rx="8.2" ry="6.4" transform="rotate(-30 640.6 726)" />
<ellipse class="f" cx="640.6" cy="726" rx="3.6" ry="2.6" transform="rotate(-30 640.6 726)" />
<ellipse class="" cx="641.6" cy="727" rx="8.2" ry="6.4" transform="rotate(-30 641.6 727)" style="stroke:#777;stroke-width:1.4"/>
<circle class="m" cx="661" cy="716.4" r="3.8" />
<circle class="m" cx="661" cy="716.4" r="1.8" />
<circle class="m" cx="624.2" cy="740.6" r="4.8" />
<path class="m" d="M 621,745 L 628,748.5" />
<path class="t" d="M 612,690 L 636,706 M 608,680 L 614,690" />
<path class="" d="M 607,676 L 632,697" style="stroke:#777;stroke-width:1.8"/>
<path class="m" d="M 902.5,571 L 926,560 L 940,592.5 L 917.5,603.7 Z" />
<path class="m" d="M 907,573 L 920,602 M 922,562 L 937,594 M 925,561 L 939,593" />
<ellipse class="m" cx="916" cy="580" rx="2.4" ry="5.5" transform="rotate(-20 916 580)" />
<path class="m" d="M 978.4,527.2 L 1000.4,516.1 L 1014,549.2 M 978.4,527.2 L 987.7,549.2 L 992.8,559.4" />
<path class="m" d="M 984.3,527.2 L 997.9,554.3 M 1004.7,518.7 L 1016.6,547.5" />
<path class="t" d="M 980.5,527.2 L 990,550" />
<ellipse class="m" cx="997" cy="533.1" rx="2.3" ry="5.6" transform="rotate(-20 997 533.1)" />
<ellipse class="t" cx="997.4" cy="533.5" rx="1" ry="3.6" transform="rotate(-20 997.4 533.5)" />
<path class="m" d="M 936.8,579.8 L 958.9,566.2 L 963.9,564.5 L 987.7,549.2" />
<path class="m" d="M 936.8,579.8 L 943.6,590 L 952.9,606.9 L 994.5,582.3 L 992.8,559.4" />
<path class="t" d="M 952.9,606.9 L 979.2,592.5" />
<path class="m" d="M 1014.9,539 L 1026.7,533.9 L 1036.1,545.8 L 1025,561.1 L 999.6,576.4 L 994.5,582.3" />
<path class="k" d="M 994.5,561.1 L 1031.8,545" />
<path class="m" d="M 996,565 L 1030,550 M 998,569.5 L 1027,556.5" />
<path class="m" d="M 995,557.5 L 1014,549.2" />
<path class="kk" d="M 1003,558 L 1009,555 M 1013,553.5 L 1021,549.5" />
<path class="m" d="M 1031.8,545 L 1036.1,545.8" />
<path class="m" d="M 962.2,565.3 L 966.5,583.2 M 963.1,571.3 L 970.7,568.7 L 975,579.8" />
<path class="m" d="M 994.5,582.3 L 1001.3,596.7 L 997.9,601.8 L 986,607.8 L 980.9,595" />
<path class="t" d="M 980.9,595 L 994.5,582.3" />
<path class="m" d="M 964.8,605.2 L 964.8,630.7 L 971.6,633.2 L 972.4,612 L 986,608.6 L 986.9,623.9 L 974.1,629 L 971.6,633.2" />
<path class="kk" d="M 985,609.5 L 985.8,624" />
<path class="t" d="M 964.8,605.2 L 972.4,612" />
<circle class="t" cx="976.7" cy="620.5" r="2.1" />
<path class="m" d="M 837.3,660.2 L 854.7,638.4 L 863.5,637.7 C 862.8,636.5 863.2,636.2 861.3,634.0 C 859.4,631.8 858.4,633.5 857.7,631.1 C 857.0,628.7 855.7,630.2 859.1,626.8 C 862.5,623.4 863.4,622.6 867.8,620.9 C 872.2,619.2 870.7,621.4 872.2,621.7 C 881.9,615.9 889.7,613.2 901.3,604.2 C 912.9,595.2 904.7,600.3 907.1,594.7 C 909.5,589.1 908.1,589.9 908.6,587.5" />
<path class="m" d="M 837.3,660.2 L 842.4,669 L 878,650.8" />
<ellipse class="m" cx="863.5" cy="626" rx="4.6" ry="2.4" transform="rotate(-30 863.5 626)" />
<path class="m" d="M 863.5,637.7 C 866.9,634.5 859.6,636.7 873.7,628.2 C 887.8,619.7 895.0,617.5 905.7,612.2" />
<path class="k" d="M 901.3,604.2 L 906.5,613" />
<path class="m" d="M 872.2,639.9 C 874.6,637.0 868.3,639.4 879.5,631.1 C 890.7,622.8 892.6,623.3 905.7,615.1 C 918.8,606.9 910.1,611.7 918.8,606.4 C 927.5,601.1 927.5,601.5 931.9,599.1" />
<path class="k" d="M 844.6,664.6 L 876.6,645.7" />
<path class="m" d="M 850.4,657.3 L 873.7,644.2" />
<path class="" d="M 846,661.5 L 868,649" style="stroke:#777;stroke-width:1.6"/>
<path class="m" d="M 876.6,645.7 L 880.9,648.6 L 881.7,680.6 L 886.0,682.8 C 886.0,672.4 885.3,665.8 886.0,651.5 C 886.7,637.2 884.1,648.6 888.2,639.9 C 892.3,631.2 895.0,630.2 898.4,625.3" />
<path class="m" d="M 898.4,634.0 L 899.9,639.9 L 901.3,674.8 L 896.9,673.3 L 896.2,642.8" />
<path class="k" d="M 900.6,640 L 901.3,674.8" />
<path class="m" d="M 886,677.7 L 896.9,671.9" />
<path class="t" d="M 889.3,665.5 L 892.8,663.8 L 892.9,670 L 889.4,671.6 Z" />
<path class="k" d="M 888.5,648 L 889,658" />
<path class="m" d="M 898.4,634.0 L 917.3,628.2 C 918.3,625.3 913.4,625.3 920.2,619.5 C 927.0,613.7 928.0,615.2 937.7,610.8 C 947.4,606.4 945.4,607.9 949.3,606.4" />
<path class="k" d="M 898.4,634 L 916,628.8" />
<path class="kk" d="M 914.4,615.1 L 920.2,622.4" />
<path class="k" d="M 923.1,620.9 L 940.6,607.8" />
<path class="m" d="M 915.9,616.6 L 931.9,602 L 939.2,596.2 M 926,612 L 932,606" />
<path class="m" d="M 911.5,599.1 L 920.2,607.8 M 917.5,603.7 L 922,611" />
<path class="m" d="M 939.2,596.2 L 945,588.9 L 952.3,603.5" />
<path class="t" d="M 940,592.5 L 946,604" />
<path class="k" d="M 878,636 L 884,633 M 880,641 L 890,636" />
<path class="m" d="M 913.9,701.7 L 917.4,733.8 L 931.2,740.7 L 932.1,708.6 Z" />
<path class="m" d="M 913.9,701.7 L 928.6,691.3 L 937.3,693 L 946,686.9 L 951.2,689.5 L 951.2,693.9 L 942.5,696.5 L 932.1,708.6" />
<path class="m" d="M 942.5,696.5 L 946.9,697.4 L 947.7,726.9 L 931.2,740.7" />
<path class="t" d="M 941.7,697.4 L 943.4,714.7 M 937.3,693 L 941.5,697 M 946,691 L 951,693" />
<path class="m" d="M 934.7,710.4 L 1037.1,763.3 L 1033.6,767.6 L 934.7,713.8 Z" style="fill:#fdfdfd"/>
<path class="k" d="M 1033.6,768.5 L 1038.8,761.6 C 1043.4,763.9 1045.7,765.0 1052.7,768.5 C 1059.7,772.0 1055.1,771.1 1059.7,772.0 C 1064.3,772.9 1061.4,769.4 1066.6,771.1 C 1071.8,772.8 1071.2,772.3 1075.3,777.2 C 1079.4,782.1 1078.2,780.1 1078.8,785.9 C 1079.4,791.7 1079.9,789.9 1077.0,794.5 C 1074.1,799.1 1072.4,798.0 1070.1,799.8 C 1066.6,797.5 1066.7,796.0 1059.7,792.8 C 1052.7,789.6 1052.7,791.1 1049.2,790.2 L 1035.4,782.4 L 1033.6,768.5" />
<path class="k" d="M 1036,770 L 1048.5,777 L 1049.2,790 M 1048.5,777 L 1053,769" />
<path class="m" d="M 1037,774 L 1048,780.5 M 1036,778 L 1048,785" />
<path class="m" d="M 1059.7,772.0 C 1058.5,774.7 1056.6,773.3 1056.0,780.0 C 1055.4,786.7 1057.3,788.0 1058.0,792.0 M 1066.6,771.1 C 1065.4,774.4 1063.2,772.7 1063.0,781.0 C 1062.8,789.3 1065.0,791.0 1066.0,796.0 M 1056.0,780.0 L 1072.0,788.0 M 1072.0,780.0 C 1071.0,783.3 1069.3,784.0 1069.0,790.0 C 1068.7,796.0 1070.3,795.3 1071.0,798.0" />
<ellipse class="f" cx="969.4" cy="706" rx="2.8" ry="3.8" transform="rotate(-30 969.4 706)" />
<path class="" d="M 959.9,700.8 L 967.5,704.6" style="stroke:#1a1a1a;stroke-width:4.2;stroke-linecap:butt"/>
<path class="t" d="M 951.2,693.9 L 959.9,700" />
<path class="d" d="M 723.6,317.5 L 752,402" />
<path class="l" d="M 749.6,396.8 L 769.8,444.6" />
<path class="d" d="M 401,536 L 458.4,502.6 L 580,630" />
<path class="dd" d="M 580,630 L 638,688" />
<path class="d" d="M 702.5,463.7 L 902.3,577.3" />
<path class="dd" d="M 902.3,577.3 L 940,595" />
<path class="d" d="M 650,522.5 L 852,639" />
<path class="d" d="M 677.5,676 L 795.6,735" />
<path class="d" d="M 586,737.5 L 546,762.5" />
<path class="d" d="M 904.4,668.7 L 939.4,688.7" />
<text x="601.5" y="453" font-size="18.5" text-anchor="middle" style="stroke:#222;stroke-width:0.35">4</text>
<text x="828.8" y="447.8" font-size="18.5" text-anchor="middle" style="stroke:#222;stroke-width:0.35">4</text>
<text x="436" y="663.4" font-size="18.5" text-anchor="middle" style="stroke:#222;stroke-width:0.35">2</text>
<text x="436" y="716.8" font-size="18.5" text-anchor="middle" style="stroke:#222;stroke-width:0.35">6</text>
<path d="M 432.4,776.9 C 434.5,776.2 435.8,774.9 436.4,773.3 L 436.4,786.5" style="stroke:#222;stroke-width:2.1;stroke-linecap:butt;stroke-linejoin:miter;fill:none"/>
<text x="720" y="794.5" font-size="18.5" text-anchor="middle" style="stroke:#222;stroke-width:0.35">2</text>
<path d="M 805.4,786.4 C 807.5,785.7 808.8,784.4 809.4,782.8 L 809.4,796" style="stroke:#222;stroke-width:2.1;stroke-linecap:butt;stroke-linejoin:miter;fill:none"/>
<text x="741" y="685" font-size="18.5" text-anchor="middle" style="stroke:#222;stroke-width:0.35">3</text>
<text x="998.6" y="682" font-size="18.5" text-anchor="middle" style="stroke:#222;stroke-width:0.35">5</text>
<path class="l" d="M 613.9,444 L 646.9,437" />
<path class="l" d="M 777.1,450.6 L 815.7,443.2" />
<path class="l" d="M 449.2,655.6 L 477.3,653.8" />
<path class="l" d="M 449.2,706.7 L 518,690.9" />
<path class="l" d="M 450,782.5 L 502.5,788.7" />
<path class="l" d="M 685,760 L 710,780" />
<path class="l" d="M 809.5,750 L 809.3,775" />
<path class="l" d="M 708.9,655.1 L 730.5,670.5" />
<path class="l" d="M 972,701.7 L 989.4,686.1" />
<path class="" d="M 657,437 L 665.3,441.1" style="stroke:#222;stroke-width:5"/>
<path class="" d="M 657,437 L 665.3,441.1" style="stroke:#777;stroke-width:2.4;stroke-dasharray:0.8 1.2;stroke-linecap:butt"/>
<ellipse class="k" cx="653.4" cy="435.2" rx="4.8" ry="6.2" transform="rotate(-20 653.4 435.2)" style="fill:#aaa"/>
<ellipse class="t" cx="654.4" cy="435.6" rx="2.2" ry="3.4" transform="rotate(-20 654.4 435.6)" style="fill:#ddd"/>
<path class="l" d="M 665.3,441.1 L 677.2,448.9" />
<path class="" d="M 770,445.8 L 775.4,458" style="stroke:#1a1a1a;stroke-width:7;stroke-linecap:butt"/>
<path class="" d="M 770.6,447 L 775.2,457.4" style="stroke:#5a5a5a;stroke-width:3.6;stroke-linecap:butt"/>
<ellipse class="f" cx="776" cy="460.8" rx="6.8" ry="3.9" transform="rotate(-15 776 460.8)" />
<path class="" d="M 774.6,457.5 L 776.2,460.5" style="stroke:#e8e8e8;stroke-width:1.8"/>
<path class="k" d="M 677.6,657.3 L 696,646.3 L 698.2,640.8 C 701,639 704,638.6 705.6,639.3 C 709,640 711,642 711.4,643.4 C 713,646 713,648 712.5,649.2 C 711.5,652 710,653.6 708.5,654.4 L 704,654.4 L 682,665 Z" style="fill:#fdfdfd"/>
<path class="" d="M 679.5,661.5 L 692,654.3" style="stroke:#555;stroke-width:6.4;stroke-linecap:butt"/>
<path class="kk" d="M 677.6,657.3 L 682,665" />
<ellipse class="m" cx="706.6" cy="647.2" rx="4.6" ry="6.6" transform="rotate(-28 706.6 647.2)" style="fill:#999"/>
<ellipse class="t" cx="705.5" cy="647.8" rx="2.8" ry="4.8" transform="rotate(-28 705.5 647.8)" style="fill:#fdfdfd;stroke:#888"/>
<path class="l" d="M 670,668.3 L 677.6,662.5" />
<g transform="translate(492 653)"><ellipse cx="0" cy="0" rx="13.6" ry="14.8" transform="rotate(-35)" style="fill:#7c7c7c;stroke:#000;stroke-width:2.8"/><ellipse cx="0" cy="0" rx="14.8" ry="16" transform="rotate(-35)" style="fill:none;stroke:#000;stroke-width:1.5;stroke-dasharray:2.8 1.8"/><path d="M -8.5,-9 C -12,-2 -11,6 -5.5,11.5" style="stroke:#3a3a3a;stroke-width:2.4;fill:none"/><path d="M -4.5,-10.5 C -8,-3 -7,5 -1.5,11.5" style="stroke:#8a8a8a;stroke-width:1.6;fill:none"/><ellipse cx="3.5" cy="1.5" rx="8" ry="10.4" transform="rotate(-30 3.5 1.5)" style="fill:#8f8f8f;stroke:#2a2a2a;stroke-width:1.4"/><circle cx="-0.8" cy="-3.8" r="2.3" style="fill:#222;stroke:none"/><circle cx="-2.4" cy="1.2" r="2" style="fill:#222;stroke:none"/><circle cx="3.6" cy="-7.2" r="1.7" style="fill:#3a3a3a;stroke:none"/><circle cx="-1.5" cy="6" r="1.5" style="fill:#444;stroke:none"/><ellipse cx="5.3" cy="3.8" rx="3.9" ry="5" transform="rotate(-30 5.3 3.8)" style="fill:#fff;stroke:#777;stroke-width:0.8"/></g>
<g transform="translate(674.5 752.5)"><ellipse cx="0" cy="0" rx="13.6" ry="14.8" transform="rotate(-35)" style="fill:#7c7c7c;stroke:#000;stroke-width:2.8"/><ellipse cx="0" cy="0" rx="14.8" ry="16" transform="rotate(-35)" style="fill:none;stroke:#000;stroke-width:1.5;stroke-dasharray:2.8 1.8"/><path d="M -8.5,-9 C -12,-2 -11,6 -5.5,11.5" style="stroke:#3a3a3a;stroke-width:2.4;fill:none"/><path d="M -4.5,-10.5 C -8,-3 -7,5 -1.5,11.5" style="stroke:#8a8a8a;stroke-width:1.6;fill:none"/><ellipse cx="3.5" cy="1.5" rx="8" ry="10.4" transform="rotate(-30 3.5 1.5)" style="fill:#8f8f8f;stroke:#2a2a2a;stroke-width:1.4"/><circle cx="-0.8" cy="-3.8" r="2.3" style="fill:#222;stroke:none"/><circle cx="-2.4" cy="1.2" r="2" style="fill:#222;stroke:none"/><circle cx="3.6" cy="-7.2" r="1.7" style="fill:#3a3a3a;stroke:none"/><circle cx="-1.5" cy="6" r="1.5" style="fill:#444;stroke:none"/><ellipse cx="5.3" cy="3.8" rx="3.9" ry="5" transform="rotate(-30 5.3 3.8)" style="fill:#fff;stroke:#777;stroke-width:0.8"/></g>
<path class="l" d="M 497.4,656.2 L 512.4,665" />
<path class="k" d="M 642.3,726.1 L 663,743" />
<path class="m" d="M 676,753.5 L 680,756.8" />
<path class="" d="M 543.5,768.5 L 593,756.6 L 593.4,758 L 544.5,774.5 Z" style="fill:#222;stroke:#111;stroke-width:1.6"/>
<path class="" d="M 560,768.5 L 588,759.5" style="stroke:#999;stroke-width:0.8"/>
<path class="" d="M 511.2,787.6 L 530.4,777.3" style="stroke:#1a1a1a;stroke-width:4.2;stroke-linecap:butt"/>
<path class="" d="M 512,787.8 L 530,778" style="stroke:#999;stroke-width:0.9"/>
<path class="kk" d="M 522.3,765.2 L 532.4,759.6 L 543.5,766.7 L 544.5,775.3 L 535.5,781.4 L 531.4,779.3 L 522.3,773.3 Z" style="fill:#222"/>
<path class="" d="M 526.5,766.5 L 532.5,763 L 538,766.5 L 532,770 Z" style="fill:#f4f4f4;stroke:none"/>
<path class="" d="M 537,772 L 540.5,770 L 541,776 L 537.5,778 Z" style="fill:#999;stroke:none"/>
<circle class="kk" cx="506.7" cy="790.5" r="4.4" style="fill:#999"/>
<path class="t" d="M 504,790 L 508,793 L 510,789" style="stroke:#222"/>
<path class="" d="M 771.4,698.9 L 802.4,727.3" style="stroke:#1a1a1a;stroke-width:4.2"/>
<path class="" d="M 773,701.5 L 798,724.5" style="stroke:#777;stroke-width:0.8"/>
<path class="" d="M 815.1,737.7 L 831.2,745.3" style="stroke:#1a1a1a;stroke-width:3.4;stroke-linecap:butt"/>
<path class="" d="M 817,738.5 L 830,744.5" style="stroke:#aaa;stroke-width:0.8"/>
<path class="kk" d="M 797.3,730.7 L 805,725.6 L 815.1,730.7 L 815.1,745.1 L 809.2,749.4 L 798.2,744.3 Z" style="fill:#222"/>
<path class="" d="M 802.6,736.8 L 808.2,739.4 L 808.2,747.2 L 802.8,744.6 Z" style="fill:#f4f4f4;stroke:none"/>
<path class="" d="M 803,729.5 L 806,727.8 L 810,730 L 807,731.8 Z" style="fill:#bbb;stroke:none"/>
<circle class="kk" cx="835.5" cy="748.5" r="4.4" style="fill:#999"/>
<path class="t" d="M 833,747 L 836,750.5 L 838.5,747.5" style="stroke:#222"/>
</g>
</svg>
</body></html>
